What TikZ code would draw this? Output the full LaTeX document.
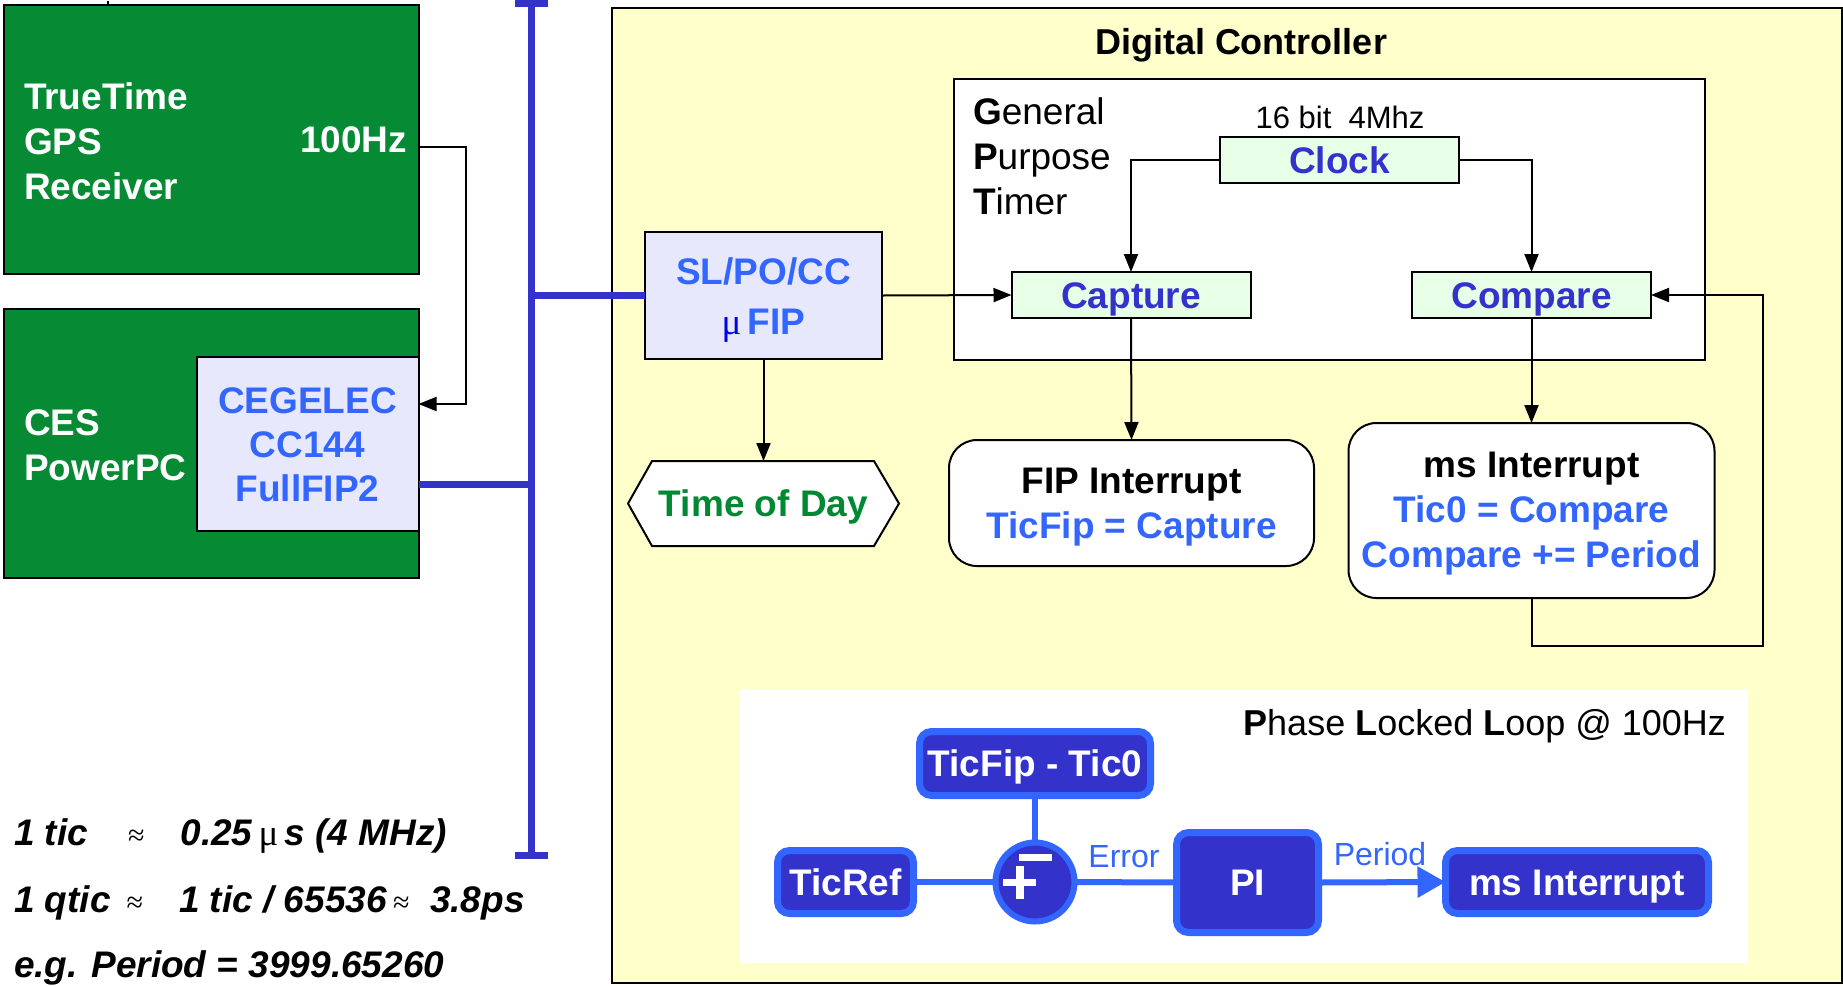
\documentclass[tikz,border=0pt]{standalone}
\usepackage{fontspec}
\setmainfont{Liberation Sans}
\newfontfamily\symfont{Liberation Serif}
\usetikzlibrary{arrows.meta,calc}

\definecolor{gpsgreen}{RGB}{6,138,51}
\definecolor{lavender}{RGB}{232,232,252}
\definecolor{linkblue}{RGB}{51,102,255}
\definecolor{busblue}{RGB}{51,51,204}
\definecolor{mint}{RGB}{230,255,230}
\definecolor{panelyellow}{RGB}{255,255,204}
\definecolor{mublue}{RGB}{0,0,238}
\definecolor{todgreen}{RGB}{0,136,51}

\newcommand\tkBig{\fontsize{37}{44}\selectfont}
\newcommand\tkMid{\fontsize{32}{38}\selectfont}
\newcommand\tkApprox{{\fontsize{30}{30}\selectfont\symfont\mdseries\upshape ≈}}
\newcommand\tkMu{{\symfont\mdseries\upshape μ}}

\tikzset{
  greenbox/.style={draw=black, line width=2.5pt, fill=gpsgreen},
  lavbox/.style={draw=black, line width=2pt, fill=lavender, align=center, text=linkblue, font=\tkBig\bfseries},
  capcentre/.style={text height=26.5pt, text depth=0pt},
  mintbox/.style={draw=black, line width=2pt, fill=mint, text=busblue, font=\tkBig\bfseries, capcentre, minimum width=239, minimum height=46},
  intbox/.style={draw=black, line width=2pt, fill=white, rounded corners=28pt},
  inttext/.style={align=center, font=\fontsize{37}{45}\selectfont\bfseries},
  whitelabel/.style={text=white, font=\fontsize{37}{45}\selectfont\bfseries, align=left},
  wire/.style={draw=black, line width=2pt},
  arr/.style={wire, -{Triangle[length=18pt,width=14pt]}},
  bus/.style={draw=busblue, line width=7pt},
  pllbox/.style={draw=linkblue, line width=7pt, fill=busblue, rounded corners=12pt, text=white, font=\tkBig\bfseries, capcentre},
  pllwire/.style={draw=linkblue, line width=6pt},
  plllabel/.style={text=linkblue, font=\tkMid},
  note/.style={anchor=base west, font=\tkBig\bfseries\itshape},
}

\begin{document}
\begin{tikzpicture}[x=1pt, y=-1pt, every node/.style={inner sep=0pt, outer sep=0pt}]
\useasboundingbox (0,0) rectangle (1843,986);

% ---------- left side: receiver and CPU ----------
\node[greenbox, minimum width=415, minimum height=269] (gps) at (211.5,139.5) {};
\draw[line width=2pt] ($(gps.north west)+(104,0)$) -- ++(0,-4);
\node[whitelabel, anchor=west] (gpstxt) at (24,141) {TrueTime\\GPS\\Receiver};
\node[whitelabel, anchor=east] (hz) at (407,140) {100Hz};

\node[greenbox, minimum width=415, minimum height=269] (ppc) at (211.5,443.5) {};
\node[whitelabel, anchor=west] (ppctxt) at (24,445) {CES\\PowerPC};
\node[lavbox, minimum width=222, minimum height=174] (ceg) at (307.5,444) {};
\node[align=center, text=linkblue, font=\tkBig\bfseries] (cegtxt) at (307.5,445) {CEGELEC\\CC144\\FullFIP2};

\coordinate (hzout) at ($(gps.east)+(0,7)$);
\draw[arr] (hzout) -- ++(47,0) |- ($(ceg.east)+(0,-40)$);

% ---------- fieldbus ----------
\coordinate (bustop) at (531.5,3.5);
\coordinate (busbot) at (531.5,855);
\coordinate (tapA) at (531.5,484);
\coordinate (tapB) at (531.5,295.5);
\draw[bus] (531.5,0) -- (531.5,858.5);
\draw[bus] ($(bustop)+(-16.5,0)$) -- ($(bustop)+(16.5,0)$);
\draw[bus] ($(busbot)+(-16.5,0)$) -- ($(busbot)+(16.5,0)$);
\draw[bus] ($(ceg.east)+(0,40)$) -- (tapA);

% ---------- digital controller ----------
\node[draw=black, line width=2pt, fill=panelyellow, minimum width=1230, minimum height=975] (dc) at (1226.5,495) {};
\node[font=\fontsize{36}{42}\selectfont\bfseries, capcentre] (dctitle) at (1241,41) {Digital Controller};

\node[draw=black, line width=2pt, fill=white, minimum width=751, minimum height=281] (gpt) at (1329,219) {};
\node[anchor=west, align=left, font=\fontsize{37}{45}\selectfont] (gpttxt) at (973,156)
  {\textbf{G}eneral\\\textbf{P}urpose\\\textbf{T}imer};

\node[font=\fontsize{31}{36}\selectfont] (clklbl) at (1340,117) {16 bit\ \ 4Mhz};
\node[mintbox] (clock) at (1339.5,160) {Clock};
\node[mintbox] (capture) at (1131,295) {Capture};
\node[mintbox] (compare) at (1531.5,295) {Compare};

\node[lavbox, minimum width=237, minimum height=127] (sl) at (763.5,295.5) {};
\node[align=center, text=linkblue, font=\fontsize{37}{50}\selectfont\bfseries] (sltxt) at (763.5,300)
  {SL/PO/CC\\{\color{mublue}\tkMu}\,FIP};
\draw[bus] (tapB) -- (sl.west);

% Time of Day hexagon
\draw[wire, fill=white] (628,503.5) -- (652,461) -- (874,461) -- (899,503.5) -- (874,546) -- (652,546) -- cycle;
\node[minimum width=271, minimum height=85, text=todgreen, font=\tkBig\bfseries, capcentre] (tod) at (763.5,503.5) {Time of Day};

\node[intbox, minimum width=365, minimum height=126] (fip) at (1131.5,503) {};
\node[inttext] (fiptxt) at (1131.5,507)
  {FIP Interrupt\\\textcolor{linkblue}{TicFip = Capture}};
\node[intbox, minimum width=366, minimum height=175] (msi) at (1531.5,510.5) {};
\node[inttext] (msitxt) at (1531.5,514)
  {ms Interrupt\\\textcolor{linkblue}{Tic0 = Compare}\\\textcolor{linkblue}{Compare += Period}};

\draw[arr] (clock.west) -| (capture.north);
\draw[arr] (clock.east) -| (compare.north);
\draw[arr] (sl.east) -- (capture.west);
\draw[arr] (sl.south) -- (tod.north);
\draw[arr] (capture.south) -- (fip.north);
\draw[arr] (compare.south) -- (msi.north);
\draw[arr] (msi.south) |- (1763,646) |- (compare.east);

% ---------- phase locked loop ----------
\node[fill=white, minimum width=1008, minimum height=274] (pll) at (1244,826) {};
\node[anchor=east, font=\fontsize{36}{42}\selectfont, capcentre] (plltitle) at (1726,722)
  {\textbf{P}hase \textbf{L}ocked \textbf{L}oop @ 100Hz};

\node[pllbox, minimum width=231, minimum height=64] (ticfip) at (1035,763.5) {TicFip - Tic0};
\node[pllbox, minimum width=136, minimum height=63] (ticref) at (845.5,882) {TicRef};
\node[pllbox, minimum width=142, minimum height=100] (pi) at (1247.5,882.5) {PI};
\node[pllbox, minimum width=263, minimum height=63] (msp) at (1577,882) {ms Interrupt};
\node[circle, draw=linkblue, fill=busblue, line width=6pt, minimum size=79] (sum) at (1035,882) {};
\fill[white] ($(sum.center)+(-32,-3.5)$) rectangle ++(33,7);
\fill[white] ($(sum.center)+(-19.5,-16.5)$) rectangle ++(8,33);
\fill[white] ($(sum.center)+(-16,-28.5)$) rectangle ++(33,7);

\draw[pllwire] (ticref.east) -- (sum.west);
\draw[pllwire] (ticfip.south) -- (sum.north);
\draw[pllwire] (sum.east) -- (pi.west);
\draw[pllwire, -{Triangle[length=28pt,width=30pt]}] (pi.east) -- (msp.west);
\node[plllabel] (err) at (1124,857) {Error};
\node[plllabel] (per) at (1380,854) {Period};

% ---------- notes ----------
\node[note] (n1) at (14,845) {1 tic\hspace{40pt}\tkApprox\hspace{36pt}0.25\,\tkMu\,s (4 MHz)};
\node[note] (n2) at (14,912) {1 qtic\hspace{16pt}\tkApprox\hspace{36pt}1 tic / 65536\,\tkApprox\ \ 3.8ps};
\node[note] (n3) at (14,977) {e.g. Period = 3999.65260};
\end{tikzpicture}
\end{document}
